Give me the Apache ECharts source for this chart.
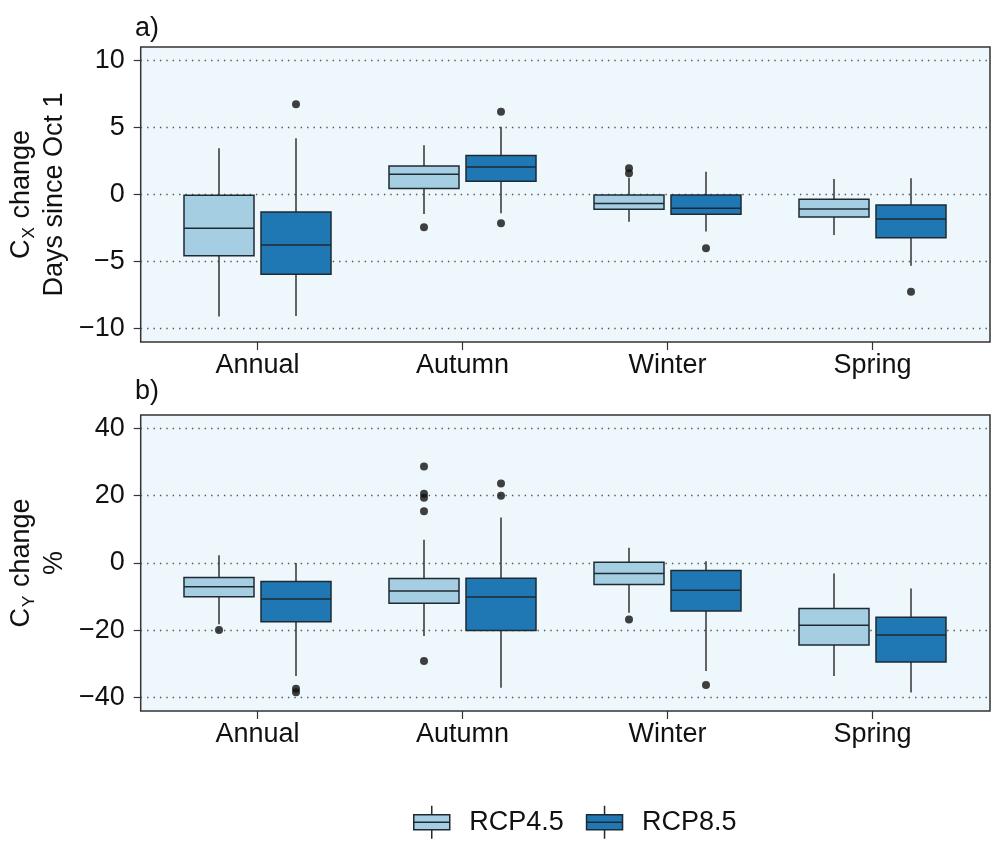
<!DOCTYPE html>
<html>
<head>
<meta charset="utf-8">
<script src="https://cdn.jsdelivr.net/npm/echarts@6/dist/echarts.min.js"></script>
<style>
html,body{margin:0;padding:0;background:#ffffff;}
#chart{width:992px;height:842px;}
</style>
</head>
<body>
<div id="chart"></div>
<script>
// ---------------- data ----------------
const categories = ['Annual', 'Autumn', 'Winter', 'Spring'];
const seriesNames = ['RCP4.5', 'RCP8.5'];

// [lower whisker, Q1, median, Q3, upper whisker]
const cxRcp45 = [
  [-9.1, -4.56, -2.52, -0.05, 3.45],
  [-1.45, 0.44, 1.51, 2.13, 3.67],
  [-2.03, -1.1, -0.68, -0.03, 1.25],
  [-3.02, -1.68, -1.08, -0.36, 1.16]
];
const cxRcp85 = [
  [-9.06, -5.95, -3.77, -1.3, 4.19],
  [-1.4, 0.98, 2.06, 2.9, 5.06],
  [-2.75, -1.48, -1.03, -0.03, 1.7],
  [-5.31, -3.22, -1.83, -0.78, 1.21]
];
// outliers: [category index, value]
const cxOut45 = [[1, -2.45], [2, 1.95], [2, 1.58]];
const cxOut85 = [[0, 6.73], [1, 6.18], [1, -2.15], [2, -4.01], [3, -7.25]];

const cyRcp45 = [
  [-18.2, -10.0, -7.07, -4.3, 2.3],
  [-21.7, -12.0, -8.3, -4.6, 6.9],
  [-14.8, -6.4, -3.1, 0.2, 4.5],
  [-33.6, -24.4, -18.5, -13.5, -3.1]
];
const cyRcp85 = [
  [-33.6, -17.5, -10.7, -5.5, 0.0],
  [-37.1, -20.1, -10.1, -4.5, 13.5],
  [-32.1, -14.3, -8.1, -2.2, 0.5],
  [-38.5, -29.4, -21.4, -16.1, -7.6]
];
const cyOut45 = [[0, -19.9], [1, 28.7], [1, 20.6], [1, 19.4], [1, 15.4], [1, -29.1], [2, -16.8]];
const cyOut85 = [[0, -37.4], [0, -38.4], [1, 23.6], [1, 20.0], [2, -36.3]];

const cxTicks = [-10, -5, 0, 5, 10];
const cyTicks = [-40, -20, 0, 20, 40];

// ---------------- style ----------------
const FONT = 'Liberation Sans';
const FS = 27;
const TEXT = '#111111';
const colors = ['#A6CEE3', '#1F78B4'];
const boxBorder = '#1e2a33';
const PLOT_LEFT = 155, PLOT_WIDTH = 820, BOX_SHIFT = 38.5;
const BAND = PLOT_WIDTH / categories.length;

const panels = [
  { top: 47, height: 295, min: -11, max: 11, ticks: cxTicks,
    boxes: [cxRcp45, cxRcp85], outliers: [cxOut45, cxOut85],
    name: '{n|C}{s|X}{n| change}\n{n|Days since Oct 1}' },
  { top: 415, height: 296, min: -44, max: 44, ticks: cyTicks,
    boxes: [cyRcp45, cyRcp85], outliers: [cyOut45, cyOut85],
    name: '{n|C}{s|Y}{n| change}\n{n|%}' }
];

const fmtMinus = v => String(v).replace('-', '\u2212');
const boxesOnly = arr => arr.map(d => [d[1], d[1], d[2], d[3], d[3]]);

const grid = [], xAxis = [], yAxis = [], series = [];

panels.forEach(p => {
  // frame grid: background, border, y labels, dotted grid lines
  const gFrame = grid.length;
  grid.push({ left: 135, right: 2, top: p.top, height: p.height, show: true,
    backgroundColor: '#eef7fb', borderColor: '#333333', borderWidth: 1.5 });
  xAxis.push({ gridIndex: gFrame, type: 'value', show: false, min: 0, max: 1 });
  yAxis.push({ gridIndex: gFrame, type: 'value', min: p.min, max: p.max,
    axisLine: { show: false },
    axisTick: { show: true, customValues: p.ticks, length: 7, lineStyle: { color: '#333', width: 1.2 } },
    axisLabel: { customValues: p.ticks, fontFamily: FONT, fontSize: FS, color: TEXT, margin: 16,
      formatter: fmtMinus },
    splitLine: { show: true, lineStyle: { color: '#555', width: 1.3, type: [1.4, 5] } },
    name: p.name, nameLocation: 'middle', nameGap: 66,
    nameTextStyle: { fontFamily: FONT, color: TEXT, align: 'center',
      rich: {
        n: { fontFamily: FONT, fontSize: FS, lineHeight: 33, color: TEXT },
        s: { fontFamily: FONT, fontSize: 17, lineHeight: 17, color: TEXT, verticalAlign: 'bottom', padding: [0, 1, 0, 1] }
      } } });

  // category label grid
  const gLab = grid.length;
  grid.push({ left: PLOT_LEFT, width: PLOT_WIDTH, top: p.top, height: p.height, show: false });
  xAxis.push({ gridIndex: gLab, type: 'category', data: categories,
    axisLine: { show: false, onZero: false },
    axisTick: { show: true, alignWithLabel: true, length: 8, lineStyle: { color: '#333', width: 1.2 } },
    axisLabel: { fontFamily: FONT, fontSize: FS, color: TEXT, margin: 10 },
    splitLine: { show: false } });
  yAxis.push({ gridIndex: gLab, type: 'value', min: p.min, max: p.max, show: false, splitLine: { show: false } });

  // one grid per scenario: category centres shifted left / right of the label centres
  p.boxes.forEach((arr, i) => {
    const g = grid.length;
    grid.push({ left: PLOT_LEFT + BAND / 2 + (i === 0 ? -BOX_SHIFT : BOX_SHIFT),
      width: BAND * (categories.length - 1), top: p.top, height: p.height, show: false });
    const xBox = xAxis.length;
    xAxis.push({ gridIndex: g, type: 'category', data: categories, show: false, boundaryGap: false,
      axisLine: { onZero: false } });
    const xWh = xAxis.length;
    xAxis.push({ gridIndex: g, type: 'category', data: categories, show: false, boundaryGap: false,
      axisLine: { onZero: false } });
    const yIdx = yAxis.length;
    yAxis.push({ gridIndex: g, type: 'value', min: p.min, max: p.max, show: false, splitLine: { show: false } });

    series.push({ type: 'boxplot', name: seriesNames[i], xAxisIndex: xBox, yAxisIndex: yIdx,
      boxWidth: [70, 70], z: 4, silent: true,
      itemStyle: { color: colors[i], borderColor: boxBorder, borderWidth: 1.5 },
      data: boxesOnly(arr) });
    series.push({ type: 'boxplot', name: seriesNames[i] + ' whiskers', xAxisIndex: xWh, yAxisIndex: yIdx,
      boxWidth: [0, 0], z: 3, silent: true,
      itemStyle: { color: colors[i], borderColor: '#333333', borderWidth: 1.5 },
      data: arr });
    series.push({ type: 'scatter', name: seriesNames[i] + ' outliers', xAxisIndex: xBox, yAxisIndex: yIdx,
      z: 5, silent: true, clip: false, symbol: 'circle', symbolSize: 8,
      itemStyle: { color: '#111111' }, data: p.outliers[i] });
  });
});

const legendIcon = 'path://M0,9H36V24H0Z M0,16.5H36 M18,0V9 M18,24V33';

const option = {
  animation: false,
  backgroundColor: '#ffffff',
  title: [
    { text: 'a)', left: 130, top: 10, textStyle: { fontFamily: FONT, fontSize: FS, fontWeight: 'normal', color: TEXT } },
    { text: 'b)', left: 130, top: 373, textStyle: { fontFamily: FONT, fontSize: FS, fontWeight: 'normal', color: TEXT } }
  ],
  legend: {
    left: 408, top: 800, itemWidth: 37, itemHeight: 33, itemGap: 22,
    data: seriesNames.map((n, i) => ({ name: n, icon: legendIcon,
      itemStyle: { color: colors[i], borderColor: boxBorder, borderWidth: 1.5 } })),
    textStyle: { fontFamily: FONT, fontSize: FS, color: TEXT, padding: [0, 0, 0, 14] },
    selectedMode: false
  },
  grid, xAxis, yAxis, series
};

const chart = echarts.init(document.getElementById('chart'), null, { renderer: 'canvas' });
chart.setOption(option);
</script>
</body>
</html>
